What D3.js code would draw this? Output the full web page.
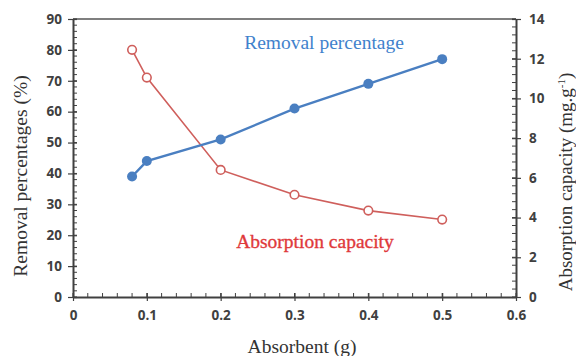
<!DOCTYPE html>
<html><head><meta charset="utf-8">
<script src="https://cdn.jsdelivr.net/npm/d3@7"></script>
<style>body{margin:0;background:#fff}svg{display:block}</style>
</head><body>
<svg id="c" width="576" height="356"></svg>
<script>
const absorbent = [0.08, 0.1, 0.2, 0.3, 0.4, 0.5];
const removalPct = [39, 44, 51, 61, 69, 77];
const absorptionCap = [12.45, 11.05, 6.4, 5.15, 4.35, 3.9];
const xTicks = [0, 0.1, 0.2, 0.3, 0.4, 0.5, 0.6];
const yLeftTicks = [0, 10, 20, 30, 40, 50, 60, 70, 80, 90];
const yRightTicks = [0, 2, 4, 6, 8, 10, 12, 14];

const svg = d3.select("#c");
const L = 73, R = 516, T = 19, B = 297;
const x = d3.scaleLinear().domain([0, 0.6]).range([L, R]);
const yL = d3.scaleLinear().domain([0, 90]).range([B, T]);
const yR = d3.scaleLinear().domain([0, 14]).range([B, T]);
const axisCol = "#404040";
const tickFont = "'Open Sans', 'Noto Sans', sans-serif";
const serif = "'Liberation Serif', 'Times New Roman', serif";

svg.append("line").attr("x1", L).attr("x2", R).attr("y1", T).attr("y2", T)
  .attr("stroke", "#555").attr("stroke-width", 1.5);

function style(g) {
  g.select(".domain").attr("stroke", axisCol).attr("stroke-width", 2);
  g.selectAll(".tick line").attr("stroke", axisCol).attr("stroke-width", 1.2);
  g.selectAll(".tick text").attr("fill", "#404040").attr("font-family", tickFont)
    .attr("font-weight", "bold").attr("font-size", 13.5);
}

const minorX = d3.range(0, 0.6001, 0.02);
svg.append("g").selectAll("line").data(minorX).join("line")
  .attr("x1", d => x(d)).attr("x2", d => x(d)).attr("y1", B).attr("y2", B - 4)
  .attr("stroke", axisCol).attr("stroke-width", 1);
const minorL = d3.range(0, 90.01, 2);
svg.append("g").selectAll("line").data(minorL).join("line")
  .attr("x1", L).attr("x2", L + 4).attr("y1", d => yL(d)).attr("y2", d => yL(d))
  .attr("stroke", axisCol).attr("stroke-width", 1);
const minorR = d3.range(0, 14.001, 0.4);
svg.append("g").selectAll("line").data(minorR).join("line")
  .attr("x1", R).attr("x2", R - 4).attr("y1", d => yR(d)).attr("y2", d => yR(d))
  .attr("stroke", axisCol).attr("stroke-width", 1);

const gx = svg.append("g").attr("transform", `translate(0,${B})`)
  .call(d3.axisBottom(x).tickValues(xTicks).tickFormat(d => d === 0 ? "0" : d3.format(".1f")(d)).tickSizeInner(4).tickSizeOuter(0).tickPadding(9));
style(gx);
gx.selectAll(".tick line").attr("y1", -4);
const gl = svg.append("g").attr("transform", `translate(${L},0)`)
  .call(d3.axisLeft(yL).tickValues(yLeftTicks).tickSizeInner(5).tickSizeOuter(0).tickPadding(6));
style(gl);
gl.selectAll(".tick line").attr("x2", 4).attr("x1", -5);
const gr = svg.append("g").attr("transform", `translate(${R},0)`)
  .call(d3.axisRight(yR).tickValues(yRightTicks).tickSizeInner(5).tickSizeOuter(0).tickPadding(8));
style(gr);
gr.selectAll(".tick line").attr("x1", -4);

const blue = "#4a7fc1", red = "#cf5f5c";
const lineL = d3.line().x((d, i) => x(absorbent[i])).y(d => yL(d));
const lineR = d3.line().x((d, i) => x(absorbent[i])).y(d => yR(d));
svg.append("path").attr("d", lineR(absorptionCap)).attr("fill", "none").attr("stroke", red).attr("stroke-width", 1.6);
svg.append("path").attr("d", lineL(removalPct)).attr("fill", "none").attr("stroke", blue).attr("stroke-width", 2.4);
svg.append("g").selectAll("circle").data(removalPct).join("circle")
  .attr("cx", (d, i) => x(absorbent[i])).attr("cy", d => yL(d)).attr("r", 5).attr("fill", blue);
svg.append("g").selectAll("circle").data(absorptionCap).join("circle")
  .attr("cx", (d, i) => x(absorbent[i])).attr("cy", d => yR(d)).attr("r", 4.3)
  .attr("fill", "#fff").attr("stroke", red).attr("stroke-width", 1.6);

function txt(x0, y0, s, size, col, rot) {
  return svg.append("text").attr("transform", `translate(${x0},${y0})` + (rot ? " rotate(-90)" : ""))
    .attr("text-anchor", "middle").style("font-family", serif).attr("font-size", size).attr("fill", col).text(s);
}
txt(324, 49, "Removal percentage", 19.5, "#3f82cc");
txt(315, 248, "Absorption capacity", 19.5, "#e0393b").attr("stroke", "#e0393b").attr("stroke-width", 0.35);
txt(302, 353, "Absorbent (g)", 19.5, "#333");
txt(27, 176, "Removal percentages (%)", 19.5, "#333", true);
const rt = txt(572, 182, "", 19, "#333", true);
rt.append("tspan").text("Absorption capacity (mg.g");
rt.append("tspan").attr("font-size", 11).attr("dy", -7).text("-1");
rt.append("tspan").attr("dy", 7).text(")");
</script>
</body></html>
